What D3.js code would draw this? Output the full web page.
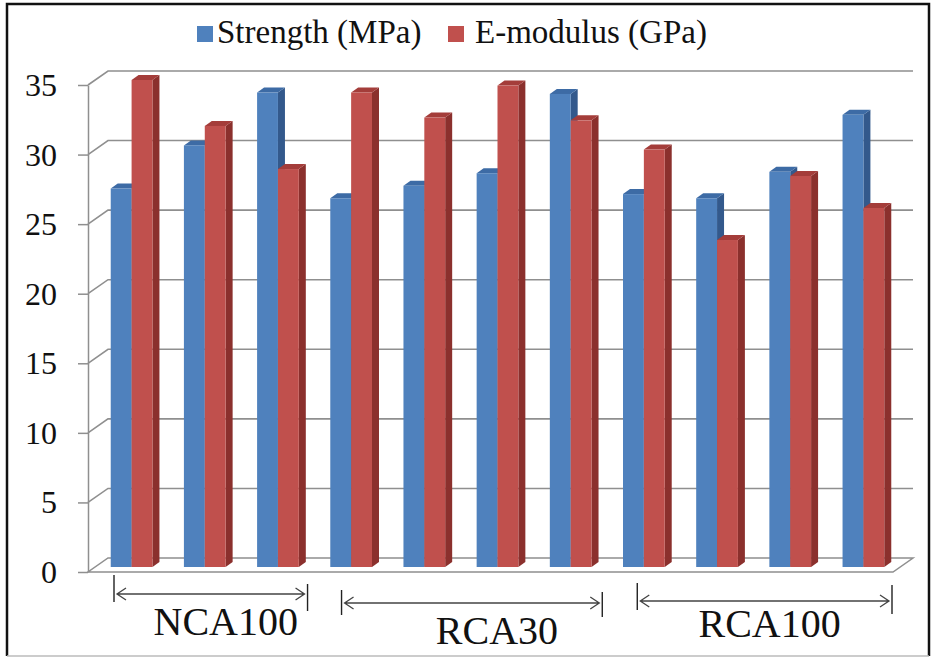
<!DOCTYPE html>
<html>
<head>
<meta charset="utf-8">
<script src="https://cdn.jsdelivr.net/npm/d3@7"></script>
<style>
  html, body { margin: 0; padding: 0; background: #fff; }
  svg { display: block; }
  svg text { font-family: "Liberation Serif", "Times New Roman", Tinos, serif !important; }
</style>
</head>
<body>
<svg id="chart" width="935" height="659"></svg>
<script>
// ---- data ----
const mixes = ["NCA100", "NCA100", "NCA100", "RCA30", "RCA30", "RCA30", "RCA30",
               "RCA100", "RCA100", "RCA100", "RCA100"];
const specimens = ["N1", "N2", "N3", "R30-1", "R30-2", "R30-3", "R30-4",
                   "R100-1", "R100-2", "R100-3", "R100-4"];
const strength = [27.2, 30.3, 34.1, 26.5, 27.4, 28.3, 34.0, 26.8, 26.5, 28.4, 32.5];
const eModulus = [35.0, 31.7, 28.6, 34.1, 32.3, 34.6, 32.1, 30.0, 23.5, 28.1, 25.8];
const seriesNames = ["Strength (MPa)", "E-modulus (GPa)"];
const yTicks = [0, 5, 10, 15, 20, 25, 30, 35];
const groupLabels = ["NCA100", "RCA30", "RCA100"];

// ---- styling / layout ----
const serif = "'Liberation Serif', 'Times New Roman', Tinos, serif";
const palette = {
  front: ["#4F81BD", "#C0504D"],
  side:  ["#33598C", "#8B302D"],
  top:   ["#3D6BA5", "#A43D3A"]
};
const front = { left: 88, right: 893, bottom: 572, top: 85 };
const depth = { dx: 20, dy: 14 };      // offset from front plane to back wall
const barPlane = { dx: 7, dy: 5 };     // bars sit a little behind the front plane
const barDepth = { dx: 7, dy: 5 };     // thickness of each bar

const svg = d3.select("#chart");

const x = d3.scaleBand().domain(specimens).range([front.left, front.right])
  .paddingInner(0.43).paddingOuter(0.215);
const xs = d3.scaleBand().domain(seriesNames).range([0, x.bandwidth()]);
const y = d3.scaleLinear().domain([0, 35]).range([front.bottom, front.top]);

const gridColor = "#8f8f8f";

// floor
svg.append("path")
  .attr("d", `M${front.left},${front.bottom} L${front.right},${front.bottom}
              L${front.right + depth.dx},${front.bottom - depth.dy}
              L${front.left + depth.dx},${front.bottom - depth.dy} Z`)
  .attr("fill", "#fff").attr("stroke", gridColor).attr("stroke-width", 1.5);

// back-wall gridlines with their diagonal on the side wall
const grid = svg.append("g");
yTicks.filter(v => v > 0).forEach(v => {
  const yy = y(v);
  grid.append("path")
    .attr("d", `M${front.left},${yy} L${front.left + depth.dx},${yy - depth.dy}
                L${front.right + depth.dx},${yy - depth.dy}`)
    .attr("fill", "none").attr("stroke", gridColor).attr("stroke-width", 1.6);
});

// y axis (front edge of side wall)
const yAxis = svg.append("g")
  .attr("transform", `translate(${front.left},0)`)
  .call(d3.axisLeft(y).tickValues(yTicks).tickSize(10).tickSizeOuter(0).tickPadding(21));
yAxis.attr("font-family", serif);
yAxis.select(".domain").attr("stroke", gridColor).attr("stroke-width", 1.5);
yAxis.selectAll(".tick line").attr("stroke", gridColor).attr("stroke-width", 1.5);
yAxis.selectAll(".tick text")
  .style("font-family", serif)
  .attr("font-size", 32).attr("fill", "#111").attr("dy", "0.33em");

// 3D bars
const bars = svg.append("g");
specimens.forEach((s, i) => {
  [strength[i], eModulus[i]].forEach((v, k) => {
    const x0 = x(s) + xs(seriesNames[k]) + barPlane.dx;
    const w = xs.bandwidth();
    const yb = y(0) - barPlane.dy;
    const yt = y(v) - barPlane.dy;
    const g = bars.append("g");
    g.append("path")
      .attr("d", `M${x0 + w},${yt} L${x0 + w + barDepth.dx},${yt - barDepth.dy}
                  L${x0 + w + barDepth.dx},${yb - barDepth.dy} L${x0 + w},${yb} Z`)
      .attr("fill", palette.side[k]);
    g.append("path")
      .attr("d", `M${x0},${yt} L${x0 + barDepth.dx},${yt - barDepth.dy}
                  L${x0 + w + barDepth.dx},${yt - barDepth.dy} L${x0 + w},${yt} Z`)
      .attr("fill", palette.top[k]);
    g.append("rect")
      .attr("x", x0).attr("y", yt).attr("width", w).attr("height", yb - yt)
      .attr("fill", palette.front[k]);
  });
});

// legend
const legendLayout = [{ sx: 197, tx: 217 }, { sx: 448, tx: 475 }];
const legend = svg.append("g");
seriesNames.forEach((name, k) => {
  legend.append("rect")
    .attr("x", legendLayout[k].sx).attr("y", 26).attr("width", 16).attr("height", 16)
    .attr("fill", palette.front[k]);
  legend.append("text")
    .attr("x", legendLayout[k].tx).attr("y", 43)
    .style("font-family", serif)
    .attr("font-size", 33).attr("fill", "#111").text(name);
});

// mix group brackets under the bars
const bracketLayout = [
  { l: 26, r: 0, ay: 594, t1: [575, 602], t2: [584, 611], ty: 635, tx: 15 },
  { l: 34, r: 2, ay: 603, t1: [590, 615], t2: [592, 617], ty: 644, tx: 25 },
  { l: 37, r: -1, ay: 601, t1: [583, 610], t2: [585, 614], ty: 637, tx: 5 }
];
const brackets = svg.append("g");
groupLabels.forEach((label, gi) => {
  const idx = mixes.map((m, i) => m === label ? i : -1).filter(i => i >= 0);
  const first = specimens[idx[0]], last = specimens[idx[idx.length - 1]];
  const step = x.step();
  const bandStart = x(first) - (step - x.bandwidth()) / 2;
  const bandEnd = x(last) + x.bandwidth() + (step - x.bandwidth()) / 2;
  const L = bracketLayout[gi];
  const xl = bandStart + L.l, xr = bandEnd + L.r;
  brackets.append("line").attr("x1", xl).attr("x2", xl)
    .attr("y1", L.t1[0]).attr("y2", L.t1[1]).attr("stroke", "#222").attr("stroke-width", 1.4);
  brackets.append("line").attr("x1", xr).attr("x2", xr)
    .attr("y1", L.t2[0]).attr("y2", L.t2[1]).attr("stroke", "#222").attr("stroke-width", 1.4);
  const a1 = xl + 3, a2 = xr - 3, ay = L.ay;
  brackets.append("path")
    .attr("d", `M${a1},${ay} L${a2},${ay}
                M${a1 + 9},${ay - 6} L${a1},${ay} L${a1 + 9},${ay + 6}
                M${a2 - 9},${ay - 6} L${a2},${ay} L${a2 - 9},${ay + 6}`)
    .attr("fill", "none").attr("stroke", "#444").attr("stroke-width", 1.3);
  brackets.append("text")
    .attr("x", (xl + xr) / 2 + L.tx)
    .attr("y", L.ty).attr("text-anchor", "middle")
    .style("font-family", serif)
    .attr("font-size", 40).attr("fill", "#111").text(label);
});

// outer frame: dark on left, top and right, faint along the bottom
svg.append("path")
  .attr("d", "M7,656 L7,4 L929,4 L929,656")
  .attr("fill", "none").attr("stroke", "#111").attr("stroke-width", 2.5);
svg.append("line")
  .attr("x1", 7).attr("x2", 929).attr("y1", 656).attr("y2", 656)
  .attr("stroke", "#bbb").attr("stroke-width", 1.5);
</script>
</body>
</html>
